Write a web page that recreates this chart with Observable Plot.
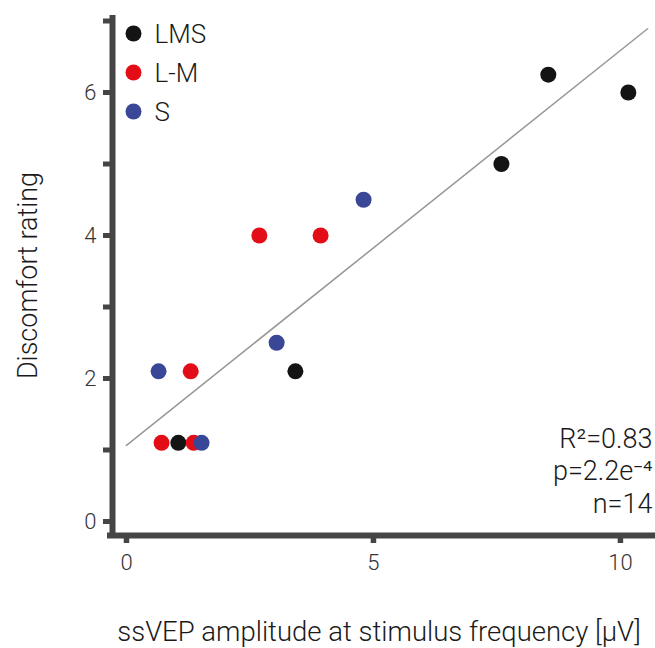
<!DOCTYPE html>
<html>
<head>
<meta charset="utf-8">
<script src="https://cdn.jsdelivr.net/npm/d3@7"></script>
<script src="https://cdn.jsdelivr.net/npm/@observablehq/plot@0.6"></script>
<style>
  html, body { margin: 0; padding: 0; background: #fff; }
  #chart { width: 655px; height: 648px; }
  svg { font-family: Roboto, "Liberation Sans", sans-serif; font-weight: 300; }
</style>
</head>
<body>
<div id="chart"></div>
<script>
// ---- data ----
const categories = ["LMS", "L-M", "S"];
const colors = ["#141414", "#e20d16", "#3a4797"];
const lmsAmp = [1.05, 3.42, 7.59, 8.54, 10.16];
const lmsRating = [1.1, 2.1, 5.0, 6.25, 6.0];
const lmAmp = [0.71, 1.36, 1.30, 2.69, 3.93];
const lmRating = [1.1, 1.1, 2.1, 4.0, 4.0];
const sAmp = [0.65, 1.52, 3.04, 4.80];
const sRating = [2.1, 1.1, 2.5, 4.5];
const xTicks = [0, 5, 10];
const yTicks = [0, 1, 2, 3, 4, 5, 6, 7];
const yTickLabels = [0, 2, 4, 6];
const fitRange = [0, 10.55];
const stats = ["R²=0.83", "p=2.2e⁻⁴", "n=14"];

const data = [
  ...lmsAmp.map((x, i) => ({x, y: lmsRating[i], g: "LMS"})),
  ...lmAmp.map((x, i) => ({x, y: lmRating[i], g: "L-M"})),
  ...sAmp.map((x, i) => ({x, y: sRating[i], g: "S"}))
];

// least-squares fit
const mx = d3.mean(data, d => d.x), my = d3.mean(data, d => d.y);
const slope = d3.sum(data, d => (d.x - mx) * (d.y - my)) / d3.sum(data, d => (d.x - mx) ** 2);
const intercept = my - slope * mx;
const fitLine = fitRange.map(x => ({x, y: intercept + slope * x}));

const axisColor = "#454545";
const xDomain = [-0.283, 10.71];
const yDomain = [-0.196, 7.077];

const legendMarks = categories.flatMap((c, i) => [
  Plot.dot([c], {frameAnchor: "top-left", dx: 21, dy: 18 + i * 39, r: 8, fill: colors[i], stroke: null}),
  Plot.text([c], {frameAnchor: "top-left", dx: 42, dy: 19 + i * 39, text: d => d, textAnchor: "start",
    lineAnchor: "middle", fontSize: 26, fill: "#1a1a1a"})
]);

const chart = Plot.plot({
  width: 655,
  height: 648,
  marginLeft: 112,
  marginRight: 0,
  marginTop: 15,
  marginBottom: 113,
  style: {fontFamily: "Roboto, 'Liberation Sans', sans-serif", fontSize: "22px", background: "#fff", overflow: "visible"},
  x: {domain: xDomain},
  y: {domain: yDomain},
  color: {domain: categories, range: colors},
  marks: [
    Plot.line(fitLine, {x: "x", y: "y", stroke: "#9a9a9a", strokeWidth: 1.6}),
    Plot.dot(data, {x: "x", y: "y", fill: "g", r: 8, stroke: null}),
    Plot.axisY({ticks: yTicks, tickSize: 9, tickPadding: 7, strokeWidth: 5, stroke: axisColor,
      tickFormat: d => yTickLabels.includes(d) ? d : "", fill: "#333", fontSize: 22, fontWeight: 300, label: null}),
    Plot.axisX({ticks: xTicks, tickSize: 8, tickPadding: 11, strokeWidth: 5.5, stroke: axisColor,
      fill: "#333", fontSize: 22, fontWeight: 300, label: null}),
    Plot.ruleX([xDomain[0]], {stroke: axisColor, strokeWidth: 6, insetBottom: -3}),
    Plot.ruleY([yDomain[0]], {stroke: axisColor, strokeWidth: 6, insetLeft: -5}),
    Plot.text([stats.join("\n")], {frameAnchor: "bottom-right", dx: -3, dy: -23, textAnchor: "end",
      lineAnchor: "bottom", lineHeight: 1.2, fontSize: 27, fill: "#1a1a1a", text: d => d}),
    Plot.text(["ssVEP amplitude at stimulus frequency [μV]"], {frameAnchor: "bottom", dy: 97, dx: -5,
      lineAnchor: "middle", textAnchor: "middle", text: d => d, fontSize: 27.5, fill: "#1a1a1a"}),
    Plot.text(["Discomfort rating"], {frameAnchor: "left", dx: -84, rotate: -90, text: d => d,
      textAnchor: "middle", lineAnchor: "middle", fontSize: 27, fill: "#1a1a1a"}),
    ...legendMarks
  ]
});
document.getElementById("chart").appendChild(chart);
</script>
</body>
</html>
